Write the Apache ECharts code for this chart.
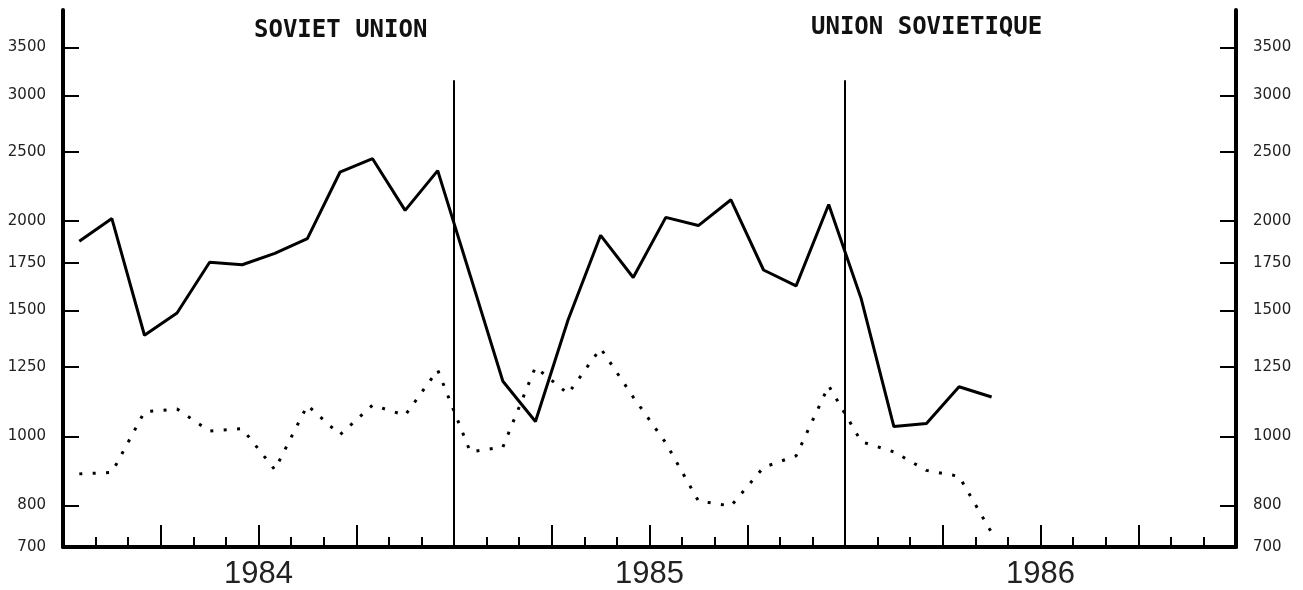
<!DOCTYPE html>
<html>
<head>
<meta charset="utf-8">
<script src="https://cdn.jsdelivr.net/npm/echarts@6/dist/echarts.min.js"></script>
<style>
  html, body { margin: 0; padding: 0; background: #fff; }
  #chart { width: 1303px; height: 590px; }
</style>
</head>
<body>
<div id="chart"></div>
<script>
// data, one value per month starting Jan 1984
const years = ['1984', '1985', '1986']
const yTicks = [700, 800, 1000, 1250, 1500, 1750, 2000, 2500, 3000, 3500]
const solidLine = [1875, 2017, 1385, 1488, 1752, 1738, 1803, 1891, 2342, 2446, 2071, 2354,
  1678, 1194, 1049, 1455, 1911, 1668, 2025, 1972, 2143, 1709, 1624, 2111,
  1556, 1032, 1042, 1173, 1135]
const dottedLine = [886, 890, 1082, 1092, 1017, 1025, 898, 1105, 1005, 1106, 1070, 1238,
  951, 966, 1250, 1147, 1328, 1135, 979, 812, 799, 905, 939, 1177,
  983, 951, 896, 879, 733]
const yearBreaks = [12, 24]   // months from Jan 1984
const breakTop = 3150

const chart = echarts.init(document.getElementById('chart'))

// points sit in the middle of their month
const toPoints = arr => arr.map((v, i) => [i + 0.5, v])

function yAxisOf(position) {
  return {
    type: 'log',
    logBase: 10,
    position: position,
    min: 700,
    max: 3950,
    axisLine: { show: true, lineStyle: { color: '#000', width: 4 } },
    axisTick: { show: true, inside: true, length: 16, customValues: yTicks, lineStyle: { color: '#000', width: 2 } },
    axisLabel: {
      customValues: yTicks,
      margin: 17,
      fontSize: 15,
      fontFamily: 'DejaVu Sans',
      color: '#222',
      formatter: v => String(Math.round(v))
    },
    splitLine: { show: false },
    minorTick: { show: false }
  }
}

chart.setOption({
  backgroundColor: '#fff',
  animation: false,
  grid: { left: 63, right: 67, top: 10, bottom: 42 },
  graphic: [
    {
      type: 'text',
      style: { x: 254, y: 31, text: 'SOVIET UNION', fontFamily: 'DejaVu Sans Mono', fontSize: 24, fontWeight: 'bold', fill: '#111', verticalAlign: 'middle' }
    },
    {
      type: 'text',
      style: { x: 811, y: 28, text: 'UNION SOVIETIQUE', fontFamily: 'DejaVu Sans Mono', fontSize: 24, fontWeight: 'bold', fill: '#111', verticalAlign: 'middle' }
    }
  ],
  xAxis: [
    {
      type: 'value',
      position: 'bottom',
      min: 0,
      max: 36,
      interval: 3,
      axisLine: { onZero: false, lineStyle: { color: '#000', width: 4 } },
      axisTick: { inside: true, length: 22, lineStyle: { color: '#000', width: 2 } },
      minorTick: { show: true, splitNumber: 3, length: 10, lineStyle: { color: '#000', width: 2 } },
      axisLabel: { show: false },
      splitLine: { show: false }
    },
    {
      type: 'category',
      position: 'bottom',
      data: years,
      boundaryGap: true,
      axisLine: { show: false },
      axisTick: { show: false },
      axisLabel: { margin: 12, fontSize: 31, fontFamily: 'Liberation Sans', color: '#222' }
    }
  ],
  yAxis: [yAxisOf('left'), yAxisOf('right')],
  series: [
    {
      type: 'line',
      data: toPoints(solidLine),
      symbol: 'none',
      lineStyle: { color: '#000', width: 3 },
      markLine: {
        silent: true,
        symbol: 'none',
        label: { show: false },
        lineStyle: { color: '#000', width: 2, type: 'solid' },
        data: yearBreaks.map(m => [{ coord: [m, breakTop] }, { coord: [m, 700] }])
      }
    },
    {
      type: 'line',
      data: toPoints(dottedLine),
      symbol: 'none',
      lineStyle: { color: '#000', width: 3, type: [3, 10.4], cap: 'butt' }
    }
  ]
})
</script>
</body>
</html>
